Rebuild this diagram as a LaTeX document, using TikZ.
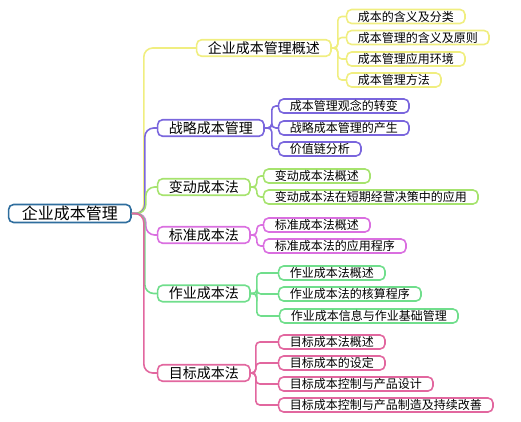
\documentclass[tikz,border=0pt]{standalone}
\usepackage{fontspec}
\newfontfamily\cjk{Noto Sans CJK SC}
\definecolor{rootc}{HTML}{2F6E9E}
\definecolor{yel}{HTML}{F0EE80}
\definecolor{pur}{HTML}{7A66DD}
\definecolor{grn}{HTML}{A6E36E}
\definecolor{mag}{HTML}{DA6FE0}
\definecolor{tea}{HTML}{70DE8C}
\definecolor{pnk}{HTML}{E2679F}
\tikzset{
 box/.style={draw, fill=white, rounded corners=5pt, line width=1.6pt, text=black, anchor=west, inner ysep=0pt},
 rootbox/.style={box, draw=rootc, font=\cjk\fontsize{16}{16}\selectfont, inner xsep=13.2pt, minimum height=18pt},
 lone/.style={box, font=\cjk\fontsize{14}{14}\selectfont, inner xsep=11.2pt, minimum height=16.5pt},
 ltwo/.style={box, font=\cjk\fontsize{12}{12}\selectfont, inner xsep=11.2pt, minimum height=14pt},
 link/.style={line width=1.6pt, rounded corners=9pt},
 sublink/.style={line width=1.6pt, rounded corners=4pt},
}
\begin{document}
\begin{tikzpicture}[x=1pt,y=-1pt]
\useasboundingbox (0,0) rectangle (521,422);
% root
\node[rootbox] (root) at (7.8,213.5) {企业成本管理};
% level 1
\node[lone, draw=yel] (A) at (195.8,48) {企业成本管理概述};
\node[lone, draw=pur] (B) at (156.8,128) {战略成本管理};
\node[lone, draw=grn] (C) at (156.8,187) {变动成本法};
\node[lone, draw=mag] (D) at (156.8,235) {标准成本法};
\node[lone, draw=tea] (E) at (156.8,293.5) {作业成本法};
\node[lone, draw=pnk] (F) at (156.8,373) {目标成本法};
% level 2
\node[ltwo, draw=yel] (A1) at (345.8,16.5) {成本的含义及分类};
\node[ltwo, draw=yel] (A2) at (345.8,37.5) {成本管理的含义及原则};
\node[ltwo, draw=yel] (A3) at (345.8,59) {成本管理应用环境};
\node[ltwo, draw=yel] (A4) at (345.8,80) {成本管理方法};
\node[ltwo, draw=pur] (B1) at (277.8,106) {成本管理观念的转变};
\node[ltwo, draw=pur] (B2) at (277.8,128) {战略成本管理的产生};
\node[ltwo, draw=pur] (B3) at (277.8,149) {价值链分析};
\node[ltwo, draw=grn] (C1) at (262.8,176) {变动成本法概述};
\node[ltwo, draw=grn] (C2) at (262.8,197) {变动成本法在短期经营决策中的应用};
\node[ltwo, draw=mag] (D1) at (262.8,225) {标准成本法概述};
\node[ltwo, draw=mag] (D2) at (262.8,246) {标准成本法的应用程序};
\node[ltwo, draw=tea] (E1) at (277.8,273) {作业成本法概述};
\node[ltwo, draw=tea] (E2) at (277.8,294) {作业成本法的核算程序};
\node[ltwo, draw=tea] (E3) at (278.8,316) {作业成本信息与作业基础管理};
\node[ltwo, draw=pnk] (F1) at (277.8,342) {目标成本法概述};
\node[ltwo, draw=pnk] (F2) at (277.8,363) {目标成本的设定};
\node[ltwo, draw=pnk] (F3) at (277.8,384) {目标成本控制与产品设计};
\node[ltwo, draw=pnk] (F4) at (277.8,405) {目标成本控制与产品制造及持续改善};
% root connectors
\draw[link, yel] (root.east) -- ++(12,0) |- (A.west);
\draw[link, pur] (root.east) -- ++(13,0) |- (B.west);
\draw[link, grn] (root.east) -- ++(14,0) |- (C.west);
\draw[link, mag] (root.east) -- ++(14,0) |- (D.west);
\draw[link, tea] (root.east) -- ++(13,0) |- (E.west);
\draw[link, pnk] (root.east) -- ++(12,0) |- (F.west);
% sub connectors
\draw[sublink, yel] (A.east) -- ++(6,0) |- (A1.west);
\draw[sublink, yel] (A.east) -- ++(6,0) |- (A2.west);
\draw[sublink, yel] (A.east) -- ++(6,0) |- (A3.west);
\draw[sublink, yel] (A.east) -- ++(6,0) |- (A4.west);
\draw[sublink, pur] (B.east) -- ++(7,0) |- (B1.west);
\draw[sublink, pur] (B.east) -- ++(7,0) |- (B2.west);
\draw[sublink, pur] (B.east) -- ++(7,0) |- (B3.west);
\draw[sublink, grn] (C.east) -- ++(6,0) |- (C1.west);
\draw[sublink, grn] (C.east) -- ++(6,0) |- (C2.west);
\draw[sublink, mag] (D.east) -- ++(6,0) |- (D1.west);
\draw[sublink, mag] (D.east) -- ++(6,0) |- (D2.west);
\draw[sublink, tea] (E.east) -- ++(6,0) |- (E1.west);
\draw[sublink, tea] (E.east) -- ++(6,0) |- (E2.west);
\draw[sublink, tea] (E.east) -- ++(6,0) |- (E3.west);
\draw[sublink, pnk] (F.east) -- ++(5,0) |- (F1.west);
\draw[sublink, pnk] (F.east) -- ++(5,0) |- (F2.west);
\draw[sublink, pnk] (F.east) -- ++(5,0) |- (F3.west);
\draw[sublink, pnk] (F.east) -- ++(5,0) |- (F4.west);
\end{tikzpicture}
\end{document}
